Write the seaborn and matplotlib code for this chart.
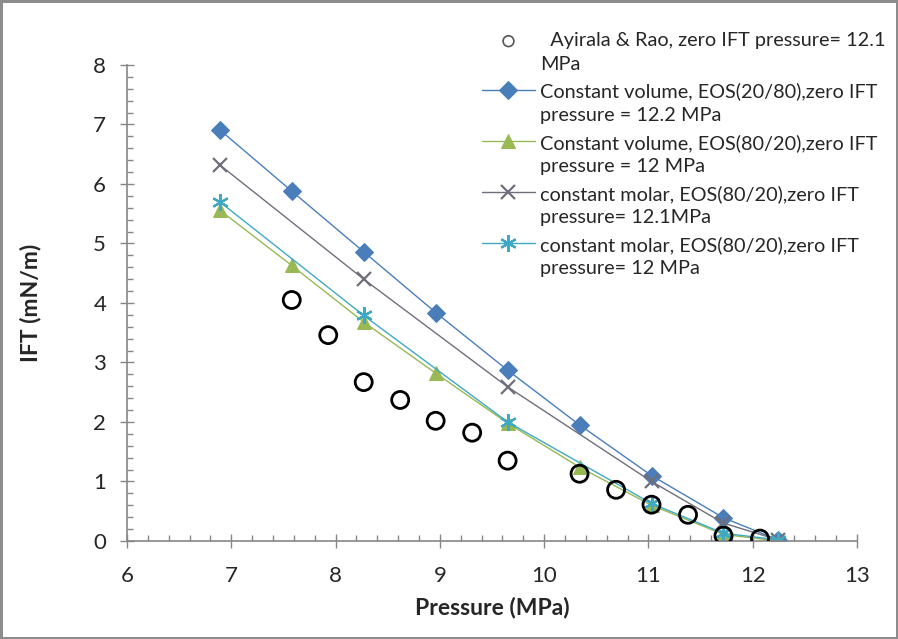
import matplotlib
matplotlib.use("Agg")
import matplotlib.pyplot as plt
import seaborn as sns
import numpy as np
from matplotlib.ticker import MultipleLocator

# measured data (Ayirala & Rao)
exp_p = [7.58, 7.93, 8.27, 8.62, 8.96, 9.31, 9.65, 10.34, 10.69, 11.03, 11.38, 11.72, 12.07]
exp_ift = [4.05, 3.46, 2.67, 2.37, 2.02, 1.82, 1.35, 1.13, 0.86, 0.61, 0.44, 0.09, 0.04]

# constant volume, EOS(20/80)
cv2080_p = [6.89, 7.58, 8.27, 8.96, 9.65, 10.34, 11.03, 11.72, 12.24]
cv2080_ift = [6.91, 5.88, 4.86, 3.84, 2.87, 1.95, 1.10, 0.39, 0.02]

# constant volume, EOS(80/20)
cv8020_p = [6.89, 7.58, 8.27, 8.96, 9.65, 10.34, 11.03, 11.72, 12.24]
cv8020_ift = [5.56, 4.63, 3.68, 2.82, 1.98, 1.24, 0.60, 0.11, 0.0]

# constant molar, EOS(80/20), 12.1 MPa
cm121_p = [6.89, 8.27, 9.65, 11.03, 11.72, 12.24]
cm121_ift = [6.32, 4.40, 2.59, 1.00, 0.30, 0.02]

# constant molar, EOS(80/20), 12 MPa
cm12_p = [6.89, 8.27, 9.65, 11.03, 11.72, 12.24]
cm12_ift = [5.70, 3.79, 2.00, 0.63, 0.13, 0.02]

labels = [
    "  Ayirala & Rao, zero IFT pressure= 12.1\nMPa",
    "Constant volume, EOS(20/80),zero IFT\npressure = 12.2 MPa",
    "Constant volume, EOS(80/20),zero IFT\npressure = 12 MPa",
    "constant molar, EOS(80/20),zero IFT\npressure= 12.1MPa",
    "constant molar, EOS(80/20),zero IFT\npressure= 12 MPa",
]

sns.set_style("white")
plt.rcParams['font.family'] = ['Lato', 'DejaVu Sans']

fig = plt.figure(figsize=(8.98, 6.39), dpi=100)
fig.patch.set_edgecolor("#8c8c8c")
fig.patch.set_linewidth(2.5)
ax = fig.add_axes([0.1414, 0.1534, 0.8129, 0.7449])

# model curves
sns.lineplot(x=cv2080_p, y=cv2080_ift, ax=ax, color="#4a7ebb", marker="D", markersize=9,
             markeredgecolor="#4a7ebb", linewidth=1.0, sort=False, estimator=None, label=labels[1])
sns.lineplot(x=cv8020_p, y=cv8020_ift, ax=ax, color="#98b954", marker="^", markersize=10,
             markeredgecolor="#98b954", linewidth=1.0, sort=False, estimator=None, label=labels[2])
sns.lineplot(x=cm121_p, y=cm121_ift, ax=ax, color="#6f6f7c", marker="x", markersize=10,
             markeredgecolor="#6f6f7c", markeredgewidth=1.6, linewidth=1.0, sort=False,
             estimator=None, label=labels[3])
sns.lineplot(x=cm12_p, y=cm12_ift, ax=ax, color="#3fa9c4", marker=(6, 2, 0), markersize=12,
             markeredgecolor="#3fa9c4", markeredgewidth=1.6, linewidth=1.0, sort=False,
             estimator=None, label=labels[4])

# experimental data
sns.scatterplot(x=exp_p, y=exp_ift, ax=ax, s=150, facecolor="none", edgecolor="black",
                linewidth=2, marker="o", label=labels[0], zorder=5)

ax.set_xlim(6, 13)
ax.set_ylim(0, 8)
ax.xaxis.set_major_locator(MultipleLocator(1))
ax.xaxis.set_minor_locator(MultipleLocator(0.2))
ax.yaxis.set_major_locator(MultipleLocator(1))
ax.yaxis.set_minor_locator(MultipleLocator(0.2))
ax.tick_params(which="major", direction="inout", length=10, width=1, color="#868686",
               labelsize=16)
ax.tick_params(axis="x", which="major", pad=13)
ax.tick_params(axis="y", which="major", pad=10)
ax.tick_params(which="minor", direction="in", length=4, width=1, color="#868686")
ax.tick_params(axis="x", which="both", bottom=True)
ax.tick_params(axis="y", which="both", left=True)
for side in ["top", "right"]:
    ax.spines[side].set_visible(False)
for side in ["left", "bottom"]:
    ax.spines[side].set_color("#868686")
    ax.spines[side].set_linewidth(1.2)

ax.set_xlabel("Pressure (MPa)", fontsize=16.5, fontweight="bold", labelpad=8)
ax.set_ylabel("IFT (mN/m)", fontsize=16.5, fontweight="bold", labelpad=37)

handles, labs = ax.get_legend_handles_labels()
order = [4, 0, 1, 2, 3]
leg = ax.legend([handles[i] for i in order], [labs[i] for i in order],
                loc="upper left", bbox_to_anchor=(0.475, 1.085), frameon=False,
                fontsize=14.3, handlelength=2.7, handletextpad=0.25,
                labelspacing=0.5, borderaxespad=0)
for t in leg.get_texts():
    t.set_linespacing(1.45)
# put each legend symbol next to the first line of its label
for col in leg._legend_handle_box.get_children():
    for row in col.get_children():
        row.align = "top"
leg.legend_handles[0].set_sizes([60])
leg.legend_handles[0].set_edgecolor("#555555")
leg.legend_handles[0].set_linewidth(1.2)

fig.savefig("out.png", dpi=100)
